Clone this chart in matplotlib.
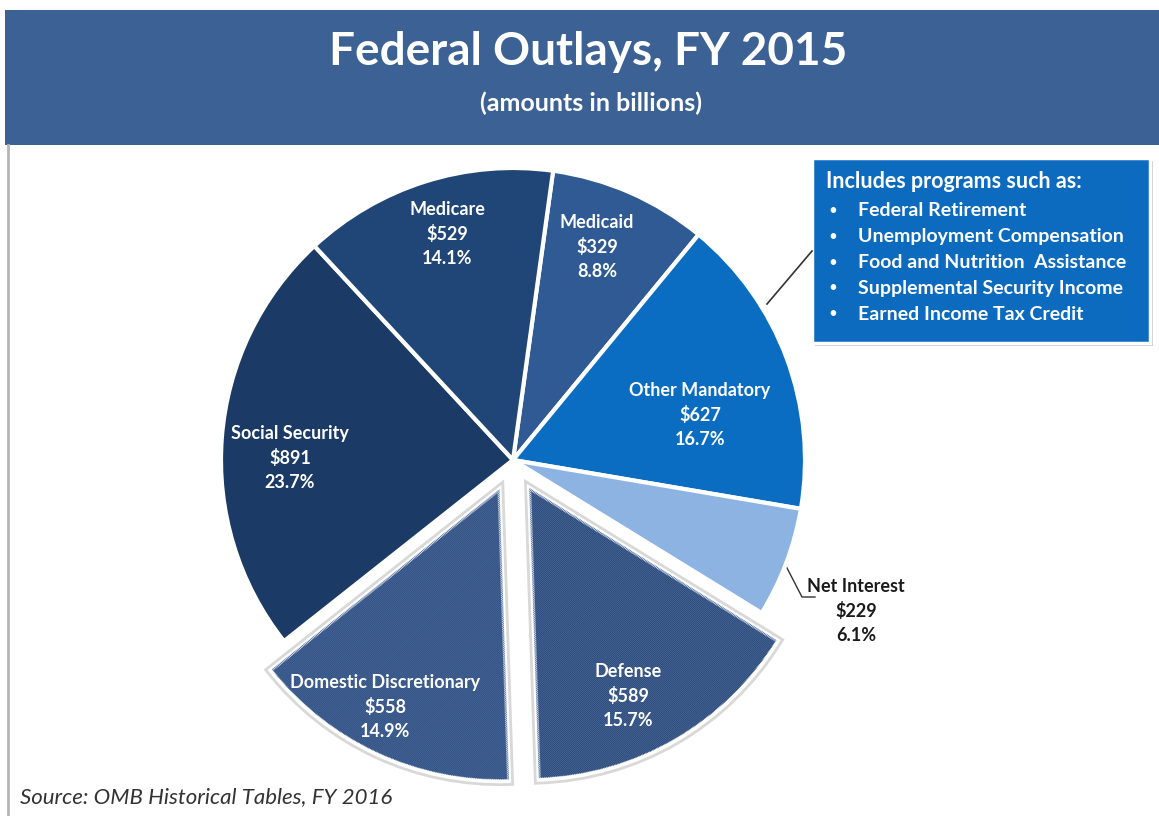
import numpy as np
import matplotlib.pyplot as plt
import matplotlib.patheffects as pe
from matplotlib.patches import Rectangle

plt.rcParams['font.family'] = ['Lato', 'DejaVu Sans']
plt.rcParams['hatch.linewidth'] = 0.6

# data, clockwise from the top
labels = ["Medicaid", "Other Mandatory", "Net Interest", "Defense",
          "Domestic Discretionary", "Social Security", "Medicare"]
amounts = [329, 627, 229, 589, 558, 891, 529]
colors = ["#2F5A93", "#0A6DC2", "#8DB3E2", "#22406F", "#284A7D", "#1B3A66", "#1F4677"]
explode = [0, 0, 0, 0.11, 0.11, 0, 0]
hatched = [False, False, False, True, True, False, False]
bullets = ["Federal Retirement", "Unemployment Compensation",
           "Food and Nutrition  Assistance", "Supplemental Security Income",
           "Earned Income Tax Credit"]

# label spots in pie units (radius = 1)
label_pos = {
    "Medicare": (-0.226, 0.774),
    "Medicaid": (0.288, 0.729),
    "Other Mandatory": (0.640, 0.154),
    "Social Security": (-0.764, 0.007),
    "Net Interest": (1.175, -0.517),
    "Defense": (0.394, -0.808),
    "Domestic Discretionary": (-0.438, -0.846),
}

W, H = 1159, 816
cx, cy, R = 513, 460, 292

fig = plt.figure(figsize=(W / 100, H / 100), dpi=100)
fig.patch.set_facecolor("white")

# decoration layer in pixel coords
deco = fig.add_axes([0, 0, 1, 1])
deco.set_xlim(0, W)
deco.set_ylim(H, 0)
deco.axis("off")
deco.add_patch(Rectangle((5, 10), W - 5, 135, facecolor="#3B6195", edgecolor="none"))
deco.plot([8, 8], [145, H], color="#b5b5b5", lw=2)
deco.text(588, 52, "Federal Outlays, FY 2015", color="white", fontsize=33,
          fontweight="bold", ha="center", va="center")
deco.text(591, 103, "(amounts in billions)", color="white", fontsize=18,
          fontweight="bold", ha="center", va="center")
deco.text(20, 797, "Source: OMB Historical Tables, FY 2016", color="#333333",
          fontsize=16, fontstyle="italic", ha="left", va="center")

# pie layer
ax = fig.add_axes([0, 0, 1, 1])
ax.set_facecolor("none")
total = sum(amounts)
start = 82.1
wedges, _ = ax.pie(amounts, colors=colors, explode=explode, startangle=start,
                   counterclock=False, radius=1,
                   wedgeprops=dict(edgecolor="white", linewidth=3))
for w, h in zip(wedges, hatched):
    if h:
        w.set_path_effects([pe.withStroke(linewidth=7, foreground="#d8d8d8")])
# hatch overlay on the exploded slices
hw, _ = ax.pie(amounts, colors=["none"] * len(amounts), explode=explode,
               startangle=start, counterclock=False, radius=0.995,
               wedgeprops=dict(linewidth=0))
for w, h in zip(hw, hatched):
    w.set_facecolor("none")
    if h:
        w.set_hatch("/" * 16)
        w.set_edgecolor("#4a6898")
    else:
        w.set_visible(False)
ax.set_xlim(-cx / R, (W - cx) / R)
ax.set_ylim((cy - H) / R, cy / R)
ax.set_aspect("auto")
ax.axis("off")

for lab, val in zip(labels, amounts):
    x, y = label_pos[lab]
    pct = 100 * val / total
    col = "#1a1a1a" if lab == "Net Interest" else "white"
    ax.text(x, y, f"{lab}\n${val}\n{pct:.1f}%", color=col, fontsize=13,
            fontweight="bold", ha="center", va="center", linespacing=1.5)

# Net Interest leader line
deco.plot([786, 802, 815], [566, 597, 597], color="#333333", lw=1)

# callout box for Other Mandatory
deco.plot([767, 812], [304, 251], color="#333333", lw=1.2)
deco.add_patch(Rectangle((815, 161), 338, 185, facecolor="#c8c8c8", edgecolor="none"))
deco.add_patch(Rectangle((812, 158), 338, 185, facecolor="#0C6BBF",
                         edgecolor="white", lw=2.5))
deco.text(826, 182, "Includes programs such as:", color="white", fontsize=15.5,
          fontweight="bold", ha="left", va="center")
for i, b in enumerate(bullets):
    yy = 211 + i * 25.8
    deco.text(833, yy, "\u2022", color="white", fontsize=11, ha="center", va="center")
    deco.text(858, yy, b, color="white", fontsize=14, fontweight="bold",
              ha="left", va="center")

fig.savefig("out.png", dpi=100)
